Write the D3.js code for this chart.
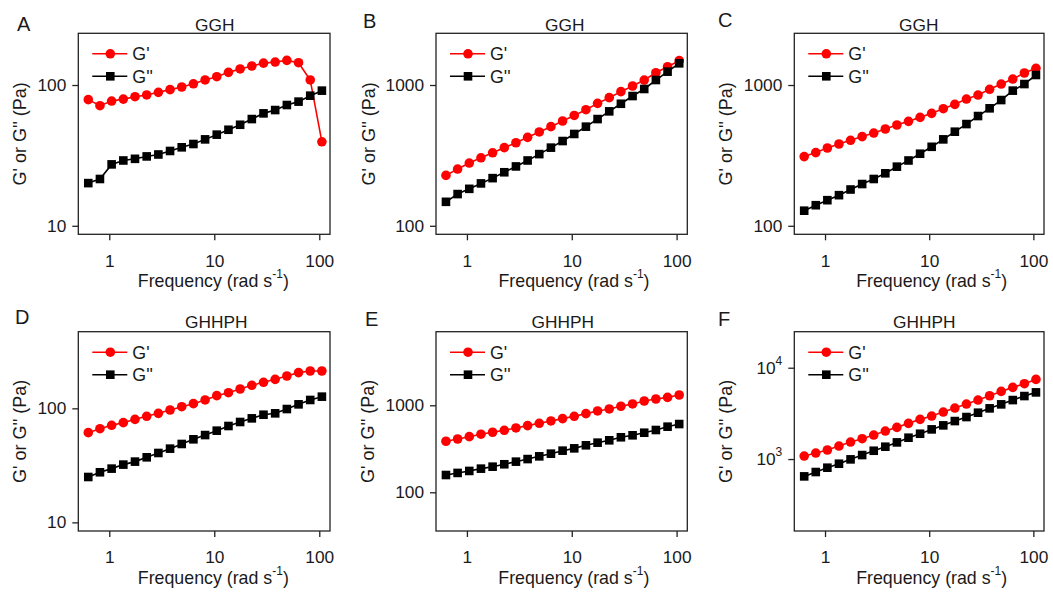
<!DOCTYPE html>
<html><head><meta charset="utf-8">
<script src="https://cdn.jsdelivr.net/npm/d3@7"></script>
<style>
body{margin:0;background:#fff}
svg text{font-family:"Liberation Sans",Arial,sans-serif;fill:#1a1a1a}
</style></head><body><svg id="c" width="1053" height="592"></svg>
<script>
// ---- data ----
const freq = [0.631, 0.815, 1.053, 1.361, 1.758, 2.272, 2.935, 3.792, 4.898, 6.329, 8.177, 10.56, 13.65, 17.63, 22.78, 29.43, 38.02, 49.12, 63.46, 82.0, 105.9];
const panelLetters = ["A", "B", "C", "D", "E", "F"];
const panelTitles = ["GGH", "GGH", "GGH", "GHHPH", "GHHPH", "GHHPH"];
const seriesNames = ["G'", "G''"];

const A_Gp  = [78.7, 71.3, 76.9, 79.4, 82.6, 85.0, 88.7, 92.7, 96.8, 102, 108.6, 114.6, 123, 130, 136.5, 143, 145.6, 149.6, 144, 108.6, 39.5];
const A_Gpp = [20.1, 21.5, 27.3, 29.1, 29.9, 31.1, 32.1, 34.0, 36.1, 38.1, 41.1, 44.4, 48.1, 52.2, 57.3, 62.9, 66.4, 72.1, 76.2, 84.0, 91.2];
const B_Gp  = [228, 253, 279, 304, 330, 359, 389, 425, 464, 506, 555, 608, 668, 741, 813, 897, 984, 1085, 1223, 1349, 1489];
const B_Gpp = [148, 168, 183, 200, 218, 240, 264, 291, 323, 359, 400, 449, 506, 573, 650, 736, 835, 937, 1085, 1244, 1426];
const C_Gp  = [310, 331, 357, 381, 405, 430, 456, 487, 520, 552, 589, 629, 679, 729, 795, 849, 932, 1016, 1103, 1217, 1314];
const C_Gpp = [128, 140, 152, 165, 181, 198, 215, 236, 263, 291, 325, 364, 411, 466, 528, 602, 683, 782, 912, 1016, 1178];
const D_Gp  = [61.2, 66.3, 71.0, 74.9, 80.1, 85.2, 90.4, 96.7, 103.4, 109.9, 118.4, 129.2, 137.2, 147.8, 159.3, 169.2, 179.6, 192.2, 205.7, 212.5, 212.5];
const D_Gpp = [25.0, 27.5, 29.6, 32.1, 34.1, 37.2, 40.6, 44.3, 48.7, 53.5, 58.3, 63.7, 70.0, 75.9, 81.7, 87.9, 90.4, 98.6, 108.4, 118.4, 126.6];
const E_Gp  = [386, 410, 436, 465, 490, 516, 549, 584, 621, 661, 703, 748, 802, 861, 908, 975, 1036, 1120, 1181, 1233, 1314];
const E_Gpp = [158, 167, 176, 187, 197, 210, 225, 241, 259, 278, 301, 320, 347, 372, 396, 429, 452, 484, 520, 568, 609];
const F_Gp  = [1079, 1164, 1256, 1388, 1535, 1670, 1832, 2027, 2223, 2460, 2719, 2957, 3272, 3617, 4000, 4424, 4935, 5506, 6093, 6683, 7450];
const F_Gpp = [646, 721, 804, 889, 992, 1106, 1233, 1365, 1522, 1713, 1893, 2113, 2338, 2606, 2884, 3217, 3590, 3970, 4424, 4896, 5370];

const xTicks = [1, 10, 100];
const yTicksA = [10, 100];
const yTicksB = [100, 1000];
const yTicksC = [100, 1000];
const yTicksD = [10, 100];
const yTicksE = [100, 1000];
const yTicksF = [1000, 10000];

const xDomain = [0.507, 126.5];
const yDomains = [[8.7, 233], [87, 2330], [87, 2330], [8.4, 470], [35.9, 7015], [163, 24800]];

// ---- layout ----
const FS = 17.3;
const cols = [{x0: 78.3, x1: 330}, {x0: 436, x1: 687.3}, {x0: 794.3, x1: 1044}];
const rows = [{y0: 33.3, y1: 234.3}, {y0: 331.7, y1: 531}];
const letterPos = [[17, 31], [363, 27.5], [718, 27], [15, 323.5], [365, 326], [718, 326]];
const titleX = [214.7, 564.7, 918.8, 216.3, 562.8, 924.2];
const titleY = [30.7, 328.3];
const yLabelX = [26, 375, 731.7, 26, 374, 731.7];
const xLabelX = [213.3, 574, 931.7, 213.3, 573.8, 931.7];

const RED = "#ff0000", BLACK = "#000000", AXIS = "#222";

const gps = [A_Gp, B_Gp, C_Gp, D_Gp, E_Gp, F_Gp];
const gpps = [A_Gpp, B_Gpp, C_Gpp, D_Gpp, E_Gpp, F_Gpp];
const yTicksAll = [yTicksA, yTicksB, yTicksC, yTicksD, yTicksE, yTicksF];

const svg = d3.select("#c");
const FONT = '"Liberation Sans",Arial,sans-serif';

function drawMarker(g, type, x, y, color) {
  if (type === "circle") {
    g.append("circle").attr("cx", x).attr("cy", y).attr("r", 4.8).attr("fill", color);
  } else {
    const s = 8.6;
    g.append("rect").attr("x", x - s / 2).attr("y", y - s / 2).attr("width", s).attr("height", s).attr("fill", color);
  }
}

for (let p = 0; p < 6; p++) {
  const c = cols[p % 3], r = rows[Math.floor(p / 3)];
  const x = d3.scaleLog().domain(xDomain).range([c.x0, c.x1]);
  const y = d3.scaleLog().domain(yDomains[p]).range([r.y1, r.y0]);
  const g = svg.append("g");

  // box
  g.append("rect").attr("x", c.x0).attr("y", r.y0).attr("width", c.x1 - c.x0).attr("height", r.y1 - r.y0)
    .attr("fill", "none").attr("stroke", AXIS).attr("stroke-width", 1.3);

  // x axis
  const xa = g.append("g").attr("transform", `translate(0,${r.y1})`)
    .call(d3.axisBottom(x).tickValues(xTicks).tickFormat(d3.format("d")).tickSize(6).tickPadding(14));
  xa.select(".domain").remove();
  xa.selectAll("line").attr("stroke", AXIS).attr("stroke-width", 1.3);
  xa.selectAll("text").attr("font-size", FS).attr("fill", "#1a1a1a").style("font-family", FONT);

  // y axis
  const ya = g.append("g").attr("transform", `translate(${c.x0},0)`)
    .call(d3.axisLeft(y).tickValues(yTicksAll[p]).tickFormat(d3.format("d")).tickSize(6).tickPadding(6));
  ya.select(".domain").remove();
  ya.selectAll("line").attr("stroke", AXIS).attr("stroke-width", 1.3);
  ya.selectAll("text").attr("font-size", FS).attr("fill", "#1a1a1a").style("font-family", FONT);
  if (p === 5) {
    ya.selectAll("text").each(function (d) {
      const t = d3.select(this);
      t.text("");
      t.append("tspan").text("10");
      t.append("tspan").attr("font-size", 12).attr("dy", "-0.75em").text(String(Math.round(Math.log10(d))));
    });
  }

  // lines and markers
  const line = d3.line().x((d, i) => x(freq[i])).y(d => y(d));
  const series = [{v: gps[p], col: RED, m: "circle"}, {v: gpps[p], col: BLACK, m: "square"}];
  series.forEach(s => {
    g.append("path").datum(s.v).attr("d", line).attr("fill", "none").attr("stroke", s.col).attr("stroke-width", 1.6);
    s.v.forEach((v, i) => drawMarker(g, s.m, x(freq[i]), y(v), s.col));
  });

  // legend
  const lx0 = c.x0 + 14, lx1 = c.x0 + 49, mx = c.x0 + 32, tx = c.x0 + 54;
  const ly = [r.y0 + 20.5, r.y0 + 43];
  series.forEach((s, k) => {
    g.append("line").attr("x1", lx0).attr("x2", lx1).attr("y1", ly[k]).attr("y2", ly[k]).attr("stroke", s.col).attr("stroke-width", 1.6);
    drawMarker(g, s.m, mx, ly[k], s.col);
    g.append("text").attr("x", tx).attr("y", ly[k]).attr("dy", "0.36em").attr("font-size", FS + 0.5).text(seriesNames[k]);
  });

  // panel letter
  g.append("text").attr("x", letterPos[p][0]).attr("y", letterPos[p][1]).attr("font-size", 20).text(panelLetters[p]);
  // title
  g.append("text").attr("x", titleX[p]).attr("y", titleY[Math.floor(p / 3)]).attr("text-anchor", "middle").attr("font-size", FS).text(panelTitles[p]);
  // y label
  const cy = (r.y0 + r.y1) / 2;
  g.append("text").attr("transform", `translate(${yLabelX[p]},${cy}) rotate(-90)`).attr("text-anchor", "middle")
    .attr("font-size", FS + 0.7).text("G' or G'' (Pa)");
  // x label
  const xl = g.append("text").attr("x", xLabelX[p]).attr("y", r.y1 + 52.5).attr("text-anchor", "middle").attr("font-size", FS + 0.5);
  xl.append("tspan").text("Frequency (rad s");
  xl.append("tspan").attr("font-size", 12).attr("dy", -9).text("-1");
  xl.append("tspan").attr("dy", 9).text(")");
}
</script></body></html>
